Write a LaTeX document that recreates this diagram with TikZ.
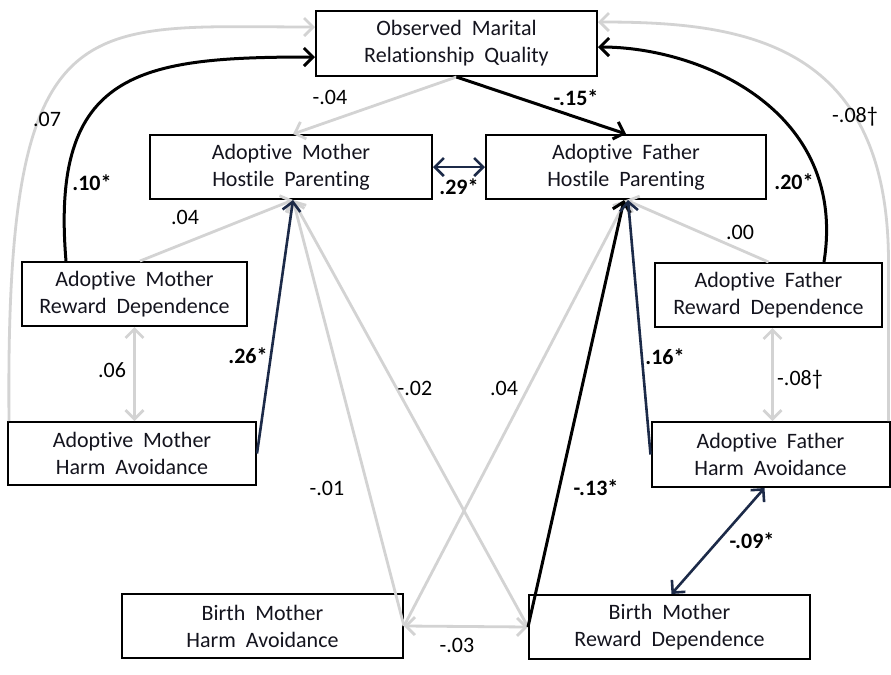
\documentclass[tikz,border=0pt]{standalone}
\usepackage{fontspec}
\setmainfont{Carlito}[Ligatures=NoCommon]
\newfontfamily\boxfont{Carlito}[WordSpace=2,Ligatures=NoCommon]
\usetikzlibrary{arrows.meta}
\definecolor{pathgray}{RGB}{211,211,211}
\definecolor{navy}{RGB}{28,42,72}
\definecolor{ink}{RGB}{20,20,30}
\begin{document}
\begin{tikzpicture}[x=0.5pt,y=-0.5pt,
  >={Straight Barb[length=4.5pt,width=9pt]},
  var/.style={draw=black, line width=1pt, fill=white, align=center, inner sep=0pt,
    font=\boxfont\fontsize{11}{13.5}\selectfont, text=ink},
  nsig/.style={->, draw=pathgray, line width=1.4pt},
  sigblack/.style={->, draw=black, line width=1.5pt},
  signavy/.style={->, draw=navy, line width=1.3pt},
  lbl/.style={inner sep=0pt, text=black, font=\fontsize{11}{13}\selectfont},
  lblb/.style={inner sep=0pt, text=black, font=\bfseries\fontsize{11}{13}\selectfont}
]
\useasboundingbox (0,0) rectangle (891,675);

% variables
\node[var, minimum width=140.5pt, minimum height=32.5pt] (omrq) at (456.5,43.5) {Observed Marital\\Relationship Quality};
\node[var, minimum width=141pt, minimum height=32pt] (amhp) at (291,167) {Adoptive Mother\\Hostile Parenting};
\node[var, minimum width=140pt, minimum height=32pt] (afhp) at (626,167) {Adoptive Father\\Hostile Parenting};
\node[var, minimum width=112.5pt, minimum height=32pt] (amrd) at (134.5,294) {Adoptive Mother\\Reward Dependence};
\node[var, minimum width=124pt, minimum height=31.5pt] (amha) at (132,453.5) {Adoptive Mother\\Harm Avoidance};
\node[var, minimum width=113.5pt, minimum height=32pt] (afrd) at (768.5,295) {Adoptive Father\\Reward Dependence};
\node[var, minimum width=119pt, minimum height=32.5pt] (afha) at (770.5,454.5) {Adoptive Father\\Harm Avoidance};
\node[var, minimum width=140.5pt, minimum height=32pt] (bmha) at (262.5,626) {Birth Mother\\Harm Avoidance};
\node[var, minimum width=140.5pt, minimum height=32pt] (bmrd) at (669.5,627) {Birth Mother\\Reward Dependence};

% non-significant paths
\draw[nsig] ([xshift=1pt]amha.north west) .. controls (5,0) and (80,27) .. ([yshift=8.25pt]omrq.west);
\draw[nsig] ([xshift=-1pt]afha.north east) -- ++(0,-162) .. controls (887,40) and (740,22) .. ([yshift=10.75pt]omrq.east);
\draw[nsig] (omrq.south) -- ([xshift=1pt]amhp.north);
\draw[nsig] ([xshift=2.75pt]amrd.north) -- ([xshift=1pt]amhp.south);
\draw[nsig,<->] (amrd.south) -- (amrd.south |- amha.north);
\draw[nsig] (bmha.east) -- ([xshift=1pt]amhp.south);
\draw[nsig] (bmrd.west) -- ([xshift=1pt]amhp.south);
\draw[nsig] (bmha.east) -- (afhp.south);
\draw[nsig,<->] (bmha.east) -- (bmrd.west);
\draw[nsig] (afrd.north) -- (afhp.south);
\draw[nsig,<->] ([xshift=2pt]afrd.south) -- ([xshift=2pt]afrd.south |- afha.north);

% significant paths
\draw[sigblack] ([xshift=22.5pt]amrd.north west) .. controls (50,70) and (140,57) .. ([yshift=-6.75pt]omrq.west);
\draw[sigblack] ([xshift=-29.5pt]afrd.north east) .. controls (848,110) and (700,47) .. ([yshift=-1.75pt]omrq.east);
\draw[sigblack] (omrq.south) -- (afhp.north);
\draw[sigblack] (bmrd.west) -- ([xshift=-1pt]afhp.south);
\draw[signavy,<->] (amhp.east) -- (afhp.west);
\draw[signavy] (amha.east) -- ([xshift=1pt]amhp.south);
\draw[signavy] (afha.west) -- ([xshift=1pt]afhp.south);
\draw[signavy,<->] ([xshift=-3pt]afha.south) -- ([xshift=1pt]bmrd.north);

% coefficients
\node[lbl]  (c07)  at (47,119)  {.07};
\node[lblb] (c10)  at (92,183)  {.10*};
\node[lbl]  (c04a) at (330,97)  {-.04};
\node[lblb] (c15)  at (576,98)  {-.15*};
\node[lblb] (c29)  at (459,187) {.29*};
\node[lblb] (c20)  at (794,182) {.20*};
\node[lbl]  (c08a) at (855,117) {-.08†};
\node[lbl]  (c04b) at (185,217) {.04};
\node[lbl]  (c00)  at (740,232) {.00};
\node[lbl]  (c06)  at (112,370) {.06};
\node[lblb] (c26)  at (248,356) {.26*};
\node[lblb] (c16)  at (665,357) {.16*};
\node[lbl]  (c08b) at (800,380) {-.08†};
\node[lbl]  (c02)  at (415,388) {-.02};
\node[lbl]  (c04c) at (504,388) {.04};
\node[lbl]  (c01)  at (327,488) {-.01};
\node[lblb] (c13)  at (596,488) {-.13*};
\node[lblb] (c09)  at (752,541) {-.09*};
\node[lbl]  (c03)  at (457,645) {-.03};
\end{tikzpicture}
\end{document}
